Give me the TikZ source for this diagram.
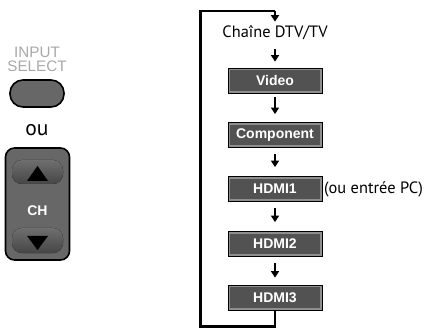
\documentclass[tikz,border=0pt]{standalone}
\usepackage{fontspec}
\setmainfont{Liberation Sans}
\newfontfamily\myr{PT Sans}
\usetikzlibrary{arrows.meta}
\definecolor{rimgray}{HTML}{8E8E8E}
\definecolor{darkgray}{HTML}{525252}
\definecolor{panelgray}{HTML}{676767}
\definecolor{labelgray}{HTML}{A8A8A8}
\tikzset{
  srcbox/.style={draw=black, line width=0.8pt, fill=rimgray,
    minimum width=94pt, minimum height=25pt, inner sep=0pt,
    font=\bfseries\fontsize{14}{14}\selectfont, text=white,
    path picture={\fill[darkgray]
      ([xshift=2.2pt,yshift=-2.2pt]path picture bounding box.north west) rectangle
      ([xshift=-2.2pt,yshift=2.2pt]path picture bounding box.south east);}},
  flow/.style={line width=2.4pt, -{Triangle[width=8pt,length=6.5pt]}},
  loopline/.style={line width=2.8pt},
  plaintxt/.style={font=\myr\fontsize{16.4}{16}\selectfont, inner sep=0pt},
  keylabel/.style={text=labelgray, font=\fontsize{15.2}{15}\selectfont, inner sep=0pt, text height=11pt, text depth=0pt},
  keyshape/.style={rounded corners=10pt, top color=panelgray!95!white, bottom color=darkgray!85!black},
}
\begin{document}
\begin{tikzpicture}[x=1pt,y=-1pt]
\useasboundingbox (0,0) rectangle (430,328);
% left remote keys
\node[keylabel] (inp) at (37,52.5) {INPUT};
\node[keylabel] (sel) at (37,66.5) {SELECT};
\node[draw=black, line width=1.6pt, fill=panelgray, rounded corners=13pt, minimum width=54pt, minimum height=27pt] (btn) at (37,93.5) {};
\node[font=\myr\fontsize{21.5}{21}\selectfont, inner sep=0pt] (ou) at (37,130) {ou};
\node[draw=black, line width=1.6pt, fill=panelgray, rounded corners=9pt, minimum width=64pt, minimum height=112pt] (panel) at (37.5,204) {};
\fill[keyshape] (12,160) rectangle (63,184);
\fill[keyshape] (12,228) rectangle (63,253);
\fill[black] (27,181) -- (48,181) -- (37.5,166) -- cycle;
\fill[black] (27,236) -- (48,236) -- (37.5,250) -- cycle;
\node[text=white, font=\bfseries\fontsize{14}{14}\selectfont] (ch) at (37.5,210.5) {CH};
% flow
\node[plaintxt] (chaine) at (275,33) {Chaîne DTV/TV};
\node[srcbox] (video) at (275,80.5) {Video};
\node[srcbox] (comp) at (275,135) {Component};
\node[srcbox] (h1) at (275,189) {HDMI1};
\node[srcbox] (h2) at (275,244) {HDMI2};
\node[srcbox] (h3) at (275,297.5) {HDMI3};
\node[plaintxt, anchor=west] (pc) at (324,189) {(ou entrée PC)};
\coordinate (bot) at (275,326.5);
\coordinate (bl) at (200.5,326.5);
\coordinate (tl) at (200.5,11);
\coordinate (tr) at (275,11);
\draw[loopline] (h3.south) -- (bot) -- (bl) -- (tl) -- (tr);
\draw[flow, shorten >=4pt] (tr) -- (chaine.north);
\draw[flow, shorten <=9pt, shorten >=6pt] (chaine.south) -- (video.north);
\draw[flow, shorten <=4pt, shorten >=8pt] (video.south) -- (comp.north);
\draw[flow, shorten <=6pt, shorten >=9pt] (comp.south) -- (h1.north);
\draw[flow, shorten <=6pt, shorten >=9pt] (h1.south) -- (h2.north);
\draw[flow, shorten <=6pt, shorten >=7pt] (h2.south) -- (h3.north);
\end{tikzpicture}
\end{document}
